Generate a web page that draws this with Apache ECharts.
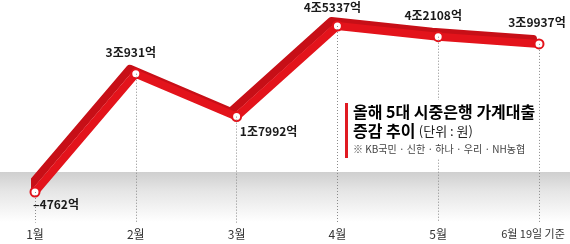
<!DOCTYPE html>
<html><head><meta charset="utf-8">
<script src="https://cdn.jsdelivr.net/npm/echarts@6/dist/echarts.min.js"></script>
<style>html,body{margin:0;padding:0;background:#fff}#c{width:570px;height:244px}</style>
</head><body><div id="c"></div>
<script>
// 단위: 억 원
var months = ['1월','2월','3월','4월','5월','6월 19일 기준'];
var values = [-4762, 30931, 17992, 45337, 42108, 39937];
var titleLine1 = '올해 5대 시중은행 가계대출';
var titleLine2 = '증감 추이';
var unitText = '(단위 : 원)';
var noteText = '※ KB국민 · 신한 · 하나 · 우리 · NH농협';

var labelOffsets = [[21,12],[-5,-21],[32,15],[-5,-19],[-5,-21],[-2,-21]];
var Y_MIN = -14000, Y_MAX = 50000;
var FONT = '"Noto Sans CJK KR", "Noto Sans", sans-serif';

function fmt(v){
  if (v < 0) return '–' + Math.abs(v) + '억';
  var jo = Math.floor(v/10000), eok = v % 10000;
  return (jo ? jo + '조' : '') + eok + '억';
}

var chart = echarts.init(document.getElementById('c'), null, {renderer:'canvas'});
chart.setOption({
  animation: false,
  backgroundColor: '#fff',
  grid: {left: 35, right: 31, top: 10.55, bottom: 21.4},
  xAxis: {
    type: 'category', boundaryGap: false, data: months,
    axisLine: {show: false}, axisTick: {show: false},
    axisLabel: {
      color: '#333', fontSize: 12, fontFamily: FONT, margin: 6, interval: 0,
      formatter: function(v, i){ return i === months.length-1 ? '{last|' + v + '}' : v; },
      rich: {last: {fontSize: 11, fontFamily: FONT, color: '#333', padding: [0,12,0,0]}}
    }
  },
  yAxis: {type: 'value', min: Y_MIN, max: Y_MAX, show: false, splitLine: {show: false}},
  graphic: [
    {type: 'rect', z: -10, silent: true,
     shape: {x: 0, y: 172, width: 570, height: 50},
     style: {fill: new echarts.graphic.LinearGradient(0,0,0,1,[
       {offset: 0, color: '#cfcfcf'}, {offset: 0.35, color: '#e4e4e4'}, {offset: 1, color: '#ffffff'}])}},
    {type: 'rect', z: 100, silent: true,
     shape: {x: 349, y: 100, width: 184, height: 59}, style: {fill: '#fff'}},
    {type: 'rect', z: 101, silent: true,
     shape: {x: 345, y: 103, width: 3, height: 55}, style: {fill: '#e01a22'}},
    {type: 'text', z: 101, x: 353, y: 112, silent: true,
     style: {text: titleLine1, font: 'bold 16px ' + FONT, fill: '#000', verticalAlign: 'middle'}},
    {type: 'text', z: 101, x: 353, y: 131, silent: true,
     style: {text: '{b|' + titleLine2 + '} {n|' + unitText + '}', verticalAlign: 'middle',
       rich: {b: {font: 'bold 16px ' + FONT, fill: '#000'}, n: {font: '13px ' + FONT, fill: '#222'}}}},
    {type: 'text', z: 101, x: 353, y: 149, silent: true,
     style: {text: noteText, font: '10px ' + FONT, fill: '#444', verticalAlign: 'middle'}}
  ],
  series: [
    {
      type: 'line', z: 1, data: values, symbol: 'none', silent: true,
      lineStyle: {opacity: 0},
      markLine: {
        silent: true, symbol: 'none', label: {show: false},
        lineStyle: {color: '#8a8a8a', width: 1, type: [1, 2]},
        data: values.map(function(v, i){ return [{coord: [i, v]}, {coord: [i, Y_MIN]}]; })
      }
    },
    {
      type: 'line', z: 3, data: values.map(function(v, i){
        return {value: v, label: {offset: labelOffsets[i]}};
      }),
      symbol: 'circle', symbolSize: 9,
      itemStyle: {color: '#fff', borderColor: '#e3131b', borderWidth: 2},
      lineStyle: {color: '#e3131b', width: 8, cap: 'round', join: 'round',
        shadowColor: '#c70f17', shadowBlur: 0, shadowOffsetX: -6, shadowOffsetY: -5},
      label: {show: true, position: 'inside', formatter: function(p){ return fmt(p.value); },
        color: '#1a1a1a', fontSize: 12, fontWeight: 'bold', fontFamily: FONT}
    }
  ]
});
</script></body></html>
